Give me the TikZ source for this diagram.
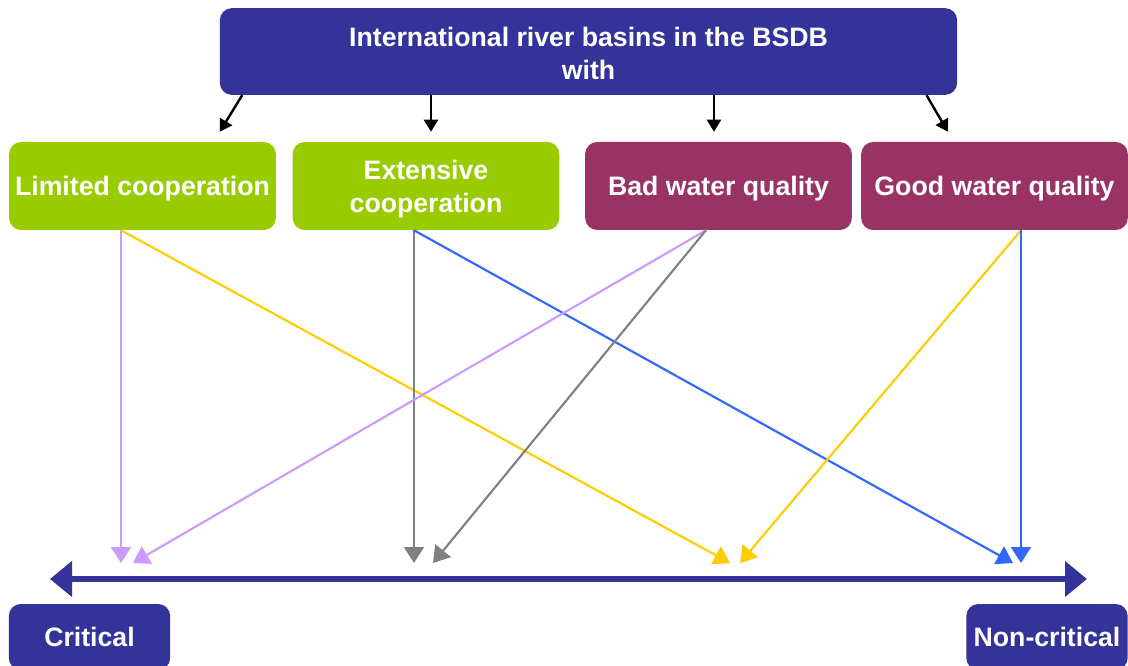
\documentclass[tikz,border=0pt]{standalone}
\usepackage{fontspec}
\setmainfont{Liberation Sans}
\usetikzlibrary{arrows.meta}
\definecolor{basinblue}{HTML}{333399}
\definecolor{coopgreen}{HTML}{99CC00}
\definecolor{qualityred}{HTML}{993366}
\definecolor{lilac}{HTML}{CC99FF}
\definecolor{amber}{HTML}{FFCC00}
\definecolor{slate}{HTML}{808080}
\definecolor{skyblue}{HTML}{3366FF}
\newcommand{\capstrut}[1]{\rule{0pt}{#1}}
\begin{document}
\begin{tikzpicture}[x=0.75pt, y=-0.75pt,
                    box/.style={rounded corners=9pt, inner sep=0pt, text=white, align=center,
                                font=\fontsize{20}{25}\selectfont\bfseries},
                    topic/.style={box, minimum width=200pt, minimum height=66pt},
                    verdict/.style={box, fill=basinblue, minimum width=121pt, minimum height=49.5pt},
                    feed/.style={-{Triangle[length=9pt,width=10.5pt]}, line width=1.8pt},
                    link/.style={-{Triangle[length=12pt,width=15pt]}, line width=1.6pt}]
\useasboundingbox (0,0) rectangle (1128,666);

\node[box, fill=basinblue, minimum width=553pt, minimum height=65pt] (basins) at (588.5,51.5)
    {\capstrut{17.3pt}International river basins in the BSDB\\with};

\node[topic, fill=coopgreen] (limited) at (142.5,186) {\capstrut{18.7pt}Limited cooperation};
\node[topic, fill=coopgreen] (extensive) at (426,186) {\capstrut{18.7pt}Extensive\\cooperation};
\node[topic, fill=qualityred] (bad) at (718.5,186) {\capstrut{18.7pt}Bad water quality};
\node[topic, fill=qualityred] (good) at (994.5,186) {\capstrut{18.7pt}Good water quality};

\node[verdict] (critical) at (89.5,637) {Critical};
\node[verdict] (noncritical) at (1047,637) {Non-critical};

% scale between the two outcomes
\coordinate (critEnd) at (50,579);
\coordinate (safeEnd) at (1087,579);
\draw[basinblue, line width=4pt, {Triangle[length=16.5pt,width=26pt]}-{Triangle[length=16.5pt,width=26pt]}]
    (critEnd) -- (safeEnd);

% from the basins to the four groups
\draw[feed] ([xshift=17pt]basins.south west) -- ([xshift=58pt,yshift=7.5pt]limited.north);
\draw[feed] (basins.south -| extensive.north) ++(3.75pt,0) -- ([xshift=3.75pt,yshift=7.5pt]extensive.north);
\draw[feed] (basins.south -| bad.north) ++(-3.4pt,0) -- ([xshift=-3.4pt,yshift=7.5pt]bad.north);
\draw[feed] ([xshift=-23.25pt]basins.south east) -- ([xshift=-35pt,yshift=7.5pt]good.north);

% arrow tips on the scale
\coordinate (limTip) at (121,563);
\coordinate (badLilac) at (133,563);
\coordinate (extTip) at (414,563);
\coordinate (badGrey) at (433,563);
\coordinate (limAmber) at (730,563);
\coordinate (goodAmber) at (740,563);
\coordinate (extBlue) at (1013,563);
\coordinate (goodTip) at (1021,563);

\draw[link, lilac] (limited.south -| limTip) -- (limTip);
\draw[link, amber] (limited.south -| limTip) -- (limAmber);
\draw[link, slate] (extensive.south -| extTip) -- (extTip);
\draw[link, skyblue] (extensive.south -| extTip) -- (extBlue);
\draw[link, lilac] ([xshift=-9.4pt]bad.south) -- (badLilac);
\draw[link, slate] ([xshift=-9.4pt]bad.south) -- (badGrey);
\draw[link, amber] (good.south -| goodTip) -- (goodAmber);
\draw[link, skyblue] (good.south -| goodTip) -- (goodTip);
\end{tikzpicture}
\end{document}
